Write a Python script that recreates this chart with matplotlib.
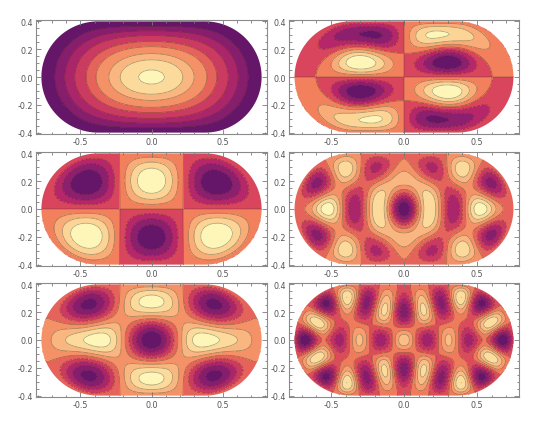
import numpy as np
import matplotlib
matplotlib.use("Agg")
import matplotlib.pyplot as plt
from matplotlib.path import Path
from matplotlib.ticker import MaxNLocator, MultipleLocator, FixedLocator
from matplotlib.colors import LinearSegmentedColormap

# ---- stadium geometry ----
half_straight = 0.375
radius = 0.4
grid_step = 0.0125

# ---- panel data (row-major: top-left, top-right, mid-left, ...) ----
panel_sym_x = [1, -1, 1, 1, 1, 1]          # +1 even in x, -1 odd in x
panel_sym_y = [1, -1, -1, 1, 1, 1]         # +1 even in y, -1 odd in y
panel_mode = [0, 3, 1, 9, 4, 14]           # index of eigenmode inside its symmetry class
panel_ref_point = [(0.0, 0.0), (0.3, 0.3), (0.0, 0.2), (0.0, 0.0), (0.0, 0.27), (0.0, 0.0)]
panel_ref_sign = [1, 1, 1, -1, 1, 1]       # +1: light at ref point, -1: dark at ref point
panel_bins = [10, 8, 8, 10, 10, 10]
panel_xhalf = [0.775, 0.75, 0.775, 0.75, 0.775, 0.75]
# x positions (on y = 0) where the contour lines of the first panel cross
ground_contour_x = [0.68, 0.61, 0.54, 0.46, 0.39, 0.30, 0.22, 0.09]
band_colors = ["#661668", "#8c1f6e", "#b5276a", "#d8455c",
               "#f3805c", "#f9ab78", "#fcd596", "#fef6b8"]
x_ticks = [-0.5, 0.0, 0.5]
y_ticks = [-0.4, -0.2, 0.0, 0.2, 0.4]
x_tick_labels = ["-0.5", "0.0", "0.5"]
y_tick_labels = ["-0.4", "-0.2", "0.0", "0.2", "0.4"]


def class_modes(sx, sy, count):
    h = grid_step
    a, r = half_straight, radius
    nx = int(np.ceil((a + r) / h)); ny = int(np.ceil(r / h))
    xs = (np.arange(nx) + 0.5) * h; ys = (np.arange(ny) + 0.5) * h
    X, Y = np.meshgrid(xs, ys)
    inside = ((X <= a) & (Y < r)) | ((X - a) ** 2 + Y ** 2 < r ** 2)
    idx = -np.ones(X.shape, int)
    idx[inside] = np.arange(inside.sum())
    n = inside.sum()
    L = np.zeros((n, n))
    for (j, i) in zip(*np.nonzero(inside)):
        p = idx[j, i]
        d = 4.0
        for dj, di in ((0, 1), (0, -1), (1, 0), (-1, 0)):
            jj, ii = j + dj, i + di
            if ii < 0:
                d -= sx; continue
            if jj < 0:
                d -= sy; continue
            if jj < ny and ii < nx and inside[jj, ii]:
                L[p, idx[jj, ii]] = -1.0
        L[p, p] = d
    w, v = np.linalg.eigh(L / h ** 2)
    xf = np.concatenate([[-(a + r) - 0.03], -xs[::-1], xs, [(a + r) + 0.03]])
    yf = np.concatenate([[-r - 0.03], -ys[::-1], ys, [r + 0.03]])
    fields = []
    for m in range(count):
        Q = np.zeros(X.shape); Q[inside] = v[:, m]
        top = np.hstack([sx * Q[:, ::-1], Q])
        full = np.vstack([sy * top[::-1, :], top])
        fields.append(np.pad(full, 1))
    return xf, yf, fields


def stadium_path(xscale):
    a, r = half_straight, radius
    t1 = np.linspace(-np.pi / 2, np.pi / 2, 120)
    t2 = np.linspace(np.pi / 2, 3 * np.pi / 2, 120)
    px = np.concatenate([a + r * np.cos(t1), -a + r * np.cos(t2)]) * xscale
    py = np.concatenate([r * np.sin(t1), r * np.sin(t2)])
    verts = np.column_stack([px, py])
    verts = np.vstack([verts, verts[:1]])
    return Path(verts, closed=True)


cache = {}
for sx, sy in zip(panel_sym_x, panel_sym_y):
    key = (sx, sy)
    if key not in cache:
        need = max(mm for a_, b_, mm in zip(panel_sym_x, panel_sym_y, panel_mode) if (a_, b_) == key) + 1
        cache[key] = class_modes(sx, sy, need)

cmap = LinearSegmentedColormap.from_list("bands", band_colors)

fig = plt.figure(figsize=(5.4, 4.27), dpi=100)
W, H = 540.0, 427.0
col_px = [(36, 231), (289, 230)]
row_px = [(21, 135), (153, 267), (284, 398)]
col_xlim = [0.813, 0.788]

for k in range(6):
    row, col = divmod(k, 2)
    x0, w = col_px[col]
    ytop, ybot = row_px[row]
    ax = fig.add_axes([x0 / W, (H - ybot) / H, w / W, (ybot - ytop) / H])
    xf, yf, fields = cache[(panel_sym_x[k], panel_sym_y[k])]
    F = fields[panel_mode[k]].copy()
    xscale = panel_xhalf[k] / (half_straight + radius)
    xs = xf * xscale
    lx, ly = panel_ref_point[k]
    jx = np.argmin(np.abs(xs - lx)); jy = np.argmin(np.abs(yf - ly))
    if F[jy, jx] * panel_ref_sign[k] < 0:
        F = -F
    F = F / np.abs(F).max()
    if k == 0:
        j0 = np.argmin(np.abs(yf))
        lv = np.interp(ground_contour_x, xs, F[j0])
        levels = np.concatenate([[F.min() - 1e-6], np.sort(lv), [F.max() + 1e-6]])
    else:
        levels = MaxNLocator(nbins=panel_bins[k]).tick_values(F.min(), F.max())
    nb = len(levels) - 1
    colors = [cmap(i / (nb - 1)) for i in range(nb)]
    path = stadium_path(xscale)
    cf = ax.contourf(xs, yf, F, levels=levels, colors=colors)
    cf.set_clip_path(path, transform=ax.transData)
    inner = levels[1:-1]
    cl = ax.contour(xs, yf, F, levels=inner, colors="#3a2a20", linewidths=0.55, alpha=0.42)
    cl.set_clip_path(path, transform=ax.transData)
    ax.set_xlim(-col_xlim[col], col_xlim[col])
    ax.set_ylim(-0.41, 0.41)
    ax.xaxis.set_major_locator(FixedLocator(x_ticks))
    ax.set_xticklabels(x_tick_labels)
    ax.yaxis.set_major_locator(FixedLocator(y_ticks))
    ax.set_yticklabels(y_tick_labels)
    ax.xaxis.set_minor_locator(MultipleLocator(0.1))
    ax.yaxis.set_minor_locator(MultipleLocator(0.05))
    ax.tick_params(which="both", direction="in", top=True, right=True,
                   colors="#7a7a7a", labelcolor="#555555", labelsize=5.8, width=0.6, pad=2)
    ax.tick_params(which="major", length=3.5)
    ax.tick_params(which="minor", length=1.8)
    for s in ax.spines.values():
        s.set_color("#8a8a8a"); s.set_linewidth(0.8)

fig.savefig("out.png", dpi=100)
